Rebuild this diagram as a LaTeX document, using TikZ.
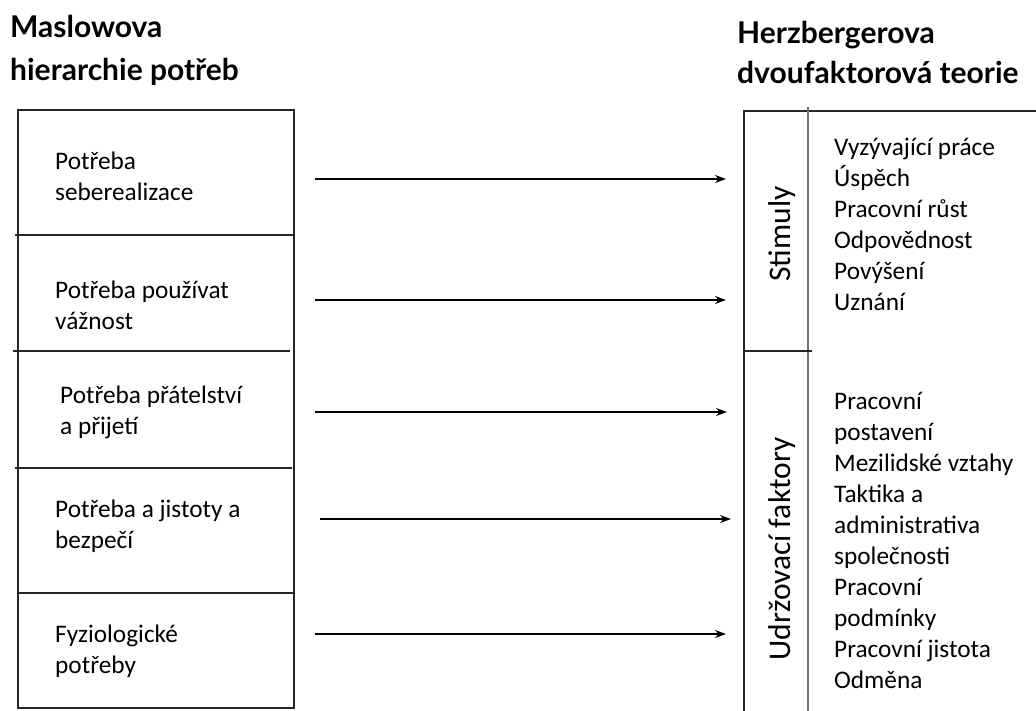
\documentclass[tikz,border=0pt]{standalone}
\usepackage{fontspec}
\setmainfont{Carlito}
\newfontfamily\headfont{Lato}
\usetikzlibrary{arrows.meta}
\tikzset{
  frame/.style={line width=1.6pt, draw=black!85},
  lbl/.style={inner sep=0pt, anchor=west, align=left, font=\fontsize{25.3}{31}\selectfont},
  rot/.style={inner sep=0pt, rotate=90, font=\fontsize{31.5}{36}\selectfont},
  head/.style={inner sep=0pt, anchor=base west, font=\headfont\bfseries\fontsize{30}{34}\selectfont},
  conn/.style={line width=1.3pt, -{Stealth[length=11pt,width=8pt]}}
}
\begin{document}
\begin{tikzpicture}[x=1pt,y=-1pt]
\useasboundingbox (0,0) rectangle (1036,711);
% headers
\node[head] (h1) at (10,38) {Maslowova};
\node[head] (h2) at (10,81) {hierarchie potřeb};
\node[head] (h3) at (737,44) {Herzbergerova};
\node[head] (h4) at (737,84) {dvoufaktorová teorie};
% left column
\draw[frame] (18,110) rectangle (294,708);
\draw[frame] (15,235) -- (294,235);
\draw[frame] (13,351) -- (290,351);
\draw[frame] (15,468) -- (292,468);
\draw[frame] (18,593) -- (294,593);
\node[lbl] (m1) at (55,176) {Potřeba\\seberealizace};
\node[lbl] (m2) at (55,305) {Potřeba používat\\vážnost};
\node[lbl] (m3) at (60,412) {Potřeba přátelství\\a přijetí};
\node[lbl] (m4) at (55,526) {Potřeba a jistoty a\\bezpečí};
\node[lbl] (m5) at (55,651) {Fyziologické\\potřeby};
% right column
\draw[frame] (1036,111) -- (744,111) -- (744,711);
\draw[line width=1.6pt, draw=black!55] (808,107) -- (808,711);
\draw[frame] (744,351) -- (812,351);
\node[rot] (s) at (782,234) {Stimuly};
\node[rot] (u) at (782,549) {Udržovací faktory};
\node[lbl] (sl) at (834,224.5) {Vyzývající práce\\Úspěch\\Pracovní růst\\Odpovědnost\\Povýšení\\Uznání};
\node[lbl] (ul) at (834,540) {Pracovní\\postavení\\Mezilidské vztahy\\Taktika a\\administrativa\\společnosti\\Pracovní\\podmínky\\Pracovní jistota\\Odměna};
% arrows
\coordinate (a1) at (315,179); \coordinate (b1) at (726,179);
\coordinate (a2) at (315,300); \coordinate (b2) at (726,300);
\coordinate (a3) at (315,412); \coordinate (b3) at (727,412);
\coordinate (a4) at (320,519); \coordinate (b4) at (731,519);
\coordinate (a5) at (315,634); \coordinate (b5) at (726,634);
\foreach \i in {1,...,5} \draw[conn] (a\i) -- (b\i);
\end{tikzpicture}
\end{document}
